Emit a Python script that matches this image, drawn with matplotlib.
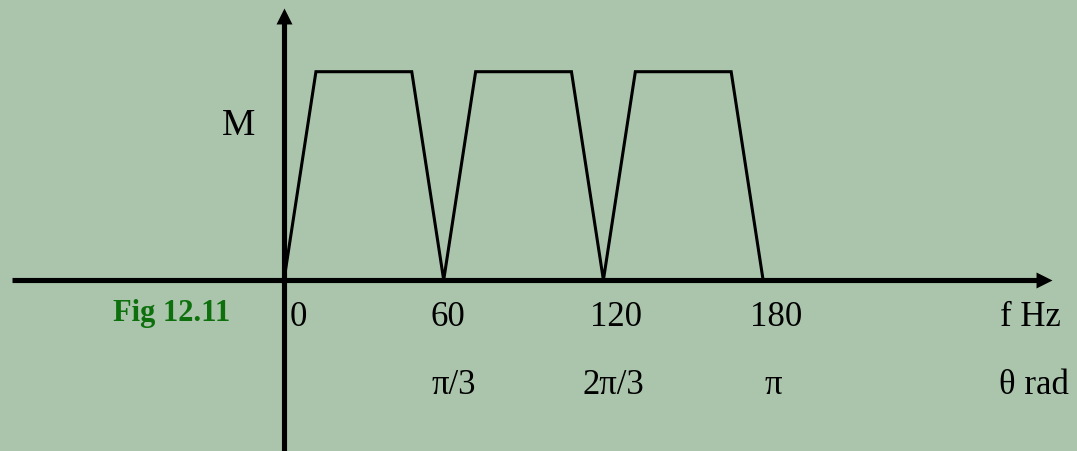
import matplotlib.pyplot as plt

# spectrum envelope: trapezoids between the harmonics
freq = [0, 12, 48, 60, 72, 108, 120, 132, 168, 180]
mag = [0, 1, 1, 0, 1, 1, 0, 1, 1, 0]

hz_ticks = [0, 60, 120, 180]
hz_labels = ['0', '60', '120', '180']
rad_ticks = [60, 120, 180]
rad_labels = ['π/3', '2π/3', 'π']

bg = '#abc5ac'
serif = ['Liberation Serif', 'DejaVu Serif']

fig = plt.figure(figsize=(10.77, 4.51), dpi=100, facecolor=bg)
ax = fig.add_axes([0, 0, 1, 1])
ax.set_facecolor(bg)

# pixel layout: origin at (284, 280) from top-left, 60 Hz = 159.7 px, M = 208 px
sx = 159.7 / 60
sy = 208.3
ax.set_xlim(-284 / sx, (1077 - 284) / sx)
ax.set_ylim(-171 / sy, 280 / sy)
ax.axis('off')

# axes: thick lines with triangular heads (marker tip sits on the point)
head_right = [(0, 0), (-1, 0.5), (-1, -0.5)]
head_up = [(0, 0), (-0.5, -1), (0.5, -1)]
x_tip = (1052 - 284) / sx
y_tip = (280 - 8) / sy
ax.plot([(12 - 284) / sx, x_tip - 10 / sx], [0, 0], color='black', lw=3.7,
        solid_capstyle='butt')
ax.plot([x_tip], [0], marker=head_right, ms=23, color='black', mew=0)
ax.plot([0, 0], [-171 / sy, y_tip - 10 / sy], color='black', lw=3.7,
        solid_capstyle='butt')
ax.plot([0], [y_tip], marker=head_up, ms=23, color='black', mew=0)

ax.plot(freq, mag, color='black', lw=2.2, solid_joinstyle='miter')

for x, lab in zip(hz_ticks, hz_labels):
    off = 2.3 if x == 0 else -5
    ax.text(x + off, -37 / sy, lab, ha='left', va='center',
            fontsize=25, family=serif)
for x, lab in zip(rad_ticks, rad_labels):
    ax.text(x + 3.7, -105 / sy, lab, ha='center', va='center',
            fontsize=25, family=serif)

ax.text(269, -37 / sy, 'f Hz', ha='left', va='center', fontsize=25, family=serif)
ax.text(268.5, -105 / sy, 'θ rad', ha='left', va='center', fontsize=25, family=serif)
ax.text(-45 / sx, 154 / sy, 'M', ha='center', va='center', fontsize=27, family=serif)
ax.text(-112 / sx, -34 / sy, 'Fig 12.11', ha='center', va='center',
        fontsize=22, fontweight='bold', color='#0d700d', family=serif)

fig.savefig('out.png', dpi=100, facecolor=bg)
